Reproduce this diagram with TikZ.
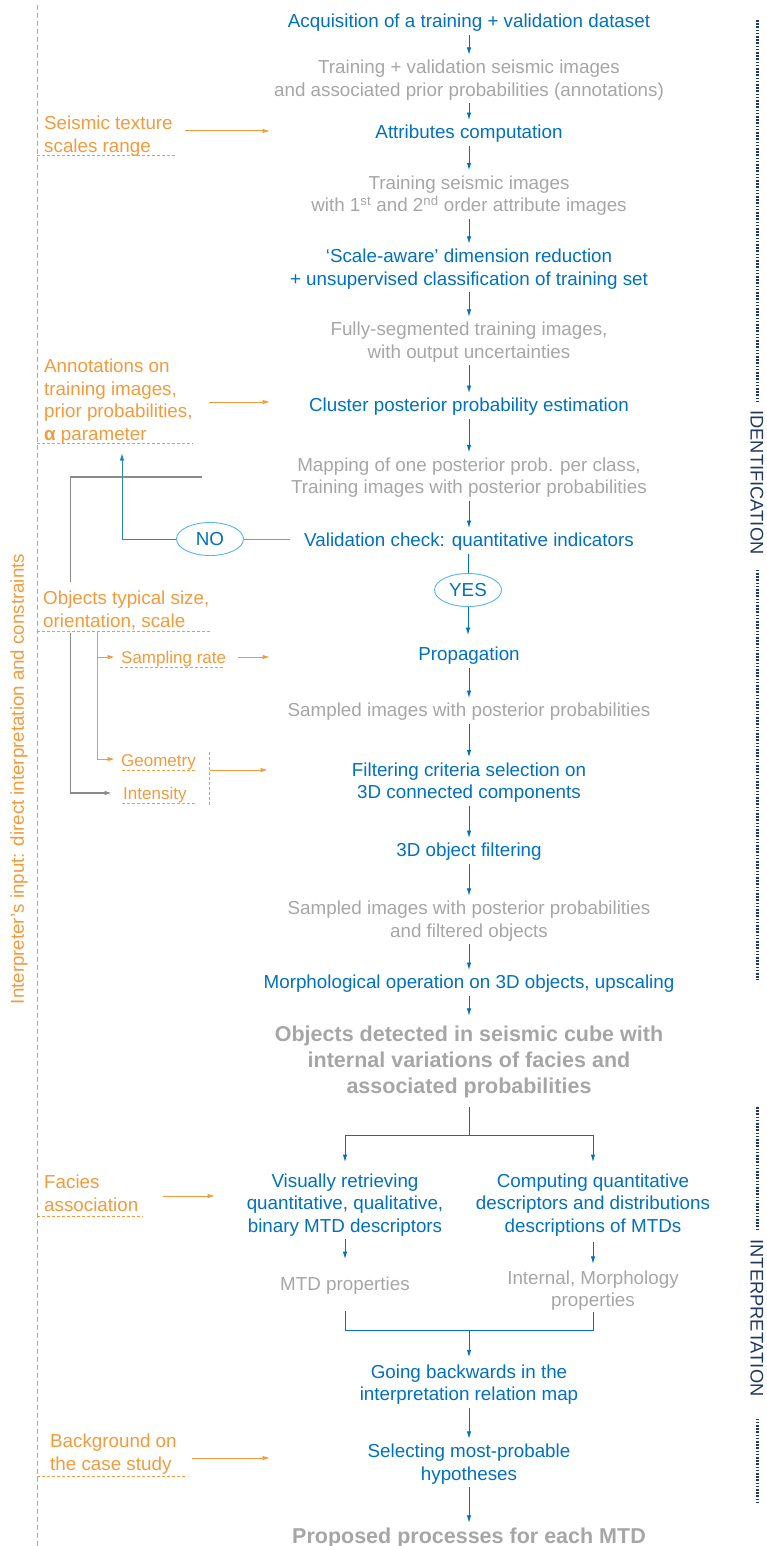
\documentclass[tikz,border=0pt]{standalone}
\usepackage{fontspec}
\setmainfont{Liberation Sans}
\usetikzlibrary{arrows.meta,shapes.geometric}
\definecolor{cblue}{HTML}{0070C0}
\definecolor{cgray}{HTML}{A6A6A6}
\definecolor{corange}{HTML}{F39A3C}
\definecolor{cnavy}{HTML}{203864}
\definecolor{clight}{HTML}{55B4F0}
\definecolor{cgline}{HTML}{8A8A8A}
\definecolor{cnoline}{HTML}{5AA7E0}
\begin{document}
\begin{tikzpicture}[x=1pt,y=-1pt,
  mf/.style={font=\fontsize{18.8}{22.5}\selectfont},
  bstep/.style={mf,text=cblue,align=center,inner sep=0pt,yshift=-3pt},
  gstep/.style={mf,text=cgray,align=center,inner sep=0pt,yshift=-3pt},
  bigstep/.style={font=\bfseries\fontsize{21.5}{26}\selectfont,text=cgray,align=center,inner sep=0pt,yshift=-3pt},
  olab/.style={mf,text=corange,align=left,anchor=west,inner sep=0pt,yshift=-2pt},
  osm/.style={font=\fontsize{17}{20}\selectfont,text=corange,anchor=west,inner sep=0pt,yshift=-2pt},
  tip/.style={-{Latex[length=7.5pt,width=4.5pt]}},
  arr/.style={draw=cblue,line width=0.9pt,tip,shorten <=3pt,shorten >=5pt},
  bline/.style={draw=cblue,line width=0.9pt},
  oarr/.style={draw=corange,line width=1pt,tip},
  gline/.style={draw=cgline,line width=1.2pt},
  udash/.style={draw=corange,line width=1.4pt,dash pattern=on 3pt off 2pt},
  vdash/.style={draw=corange,line width=1.4pt,dash pattern=on 5pt off 3pt},
  ndots/.style={draw=cnavy,line width=2.4pt,dash pattern=on 1.6pt off 1.6pt},
  oval/.style={ellipse,draw=clight,line width=0.9pt,minimum height=33pt,inner sep=0pt,mf,text=cblue},
  sidelab/.style={font=\fontsize{18.3}{20}\selectfont,text=cnavy,rotate=-90,inner sep=0pt}
]
\useasboundingbox (0,0) rectangle (766,1546);

% ---------- main column ----------
\node[bstep] (acq) at (469,20) {Acquisition of a training + validation dataset};
\node[gstep] (tv) at (469,77) {Training + validation seismic images\\and associated prior probabilities (annotations)};
\node[bstep] (attr) at (469,131) {Attributes computation};
\node[gstep] (tsi) at (469,192.5) {Training seismic images\\with 1\textsuperscript{st} and 2\textsuperscript{nd} order attribute images};
\node[bstep] (scl) at (469,266) {‘Scale-aware’ dimension reduction\\+ unsupervised classification of training set};
\node[gstep] (fully) at (469,339) {Fully-segmented training images,\\with output uncertainties};
\node[bstep] (clus) at (469,404) {Cluster posterior probability estimation};
\node[gstep] (map) at (469,474.5) {Mapping of one posterior prob. per class,\\Training images with posterior probabilities};
\node[bstep] (valid) at (469,539) {Validation check: quantitative indicators};
\node[oval,minimum width=67pt] (yes) at (468,590) {YES};
\node[oval,minimum width=67pt] (no) at (210,539) {NO};
\node[bstep] (prop) at (469,653) {Propagation};
\node[gstep] (samp1) at (469,709) {Sampled images with posterior probabilities};
\node[bstep] (filt) at (469,779.5) {Filtering criteria selection on\\3D connected components};
\node[bstep] (objf) at (469,849) {3D object filtering};
\node[gstep] (samp2) at (469,918) {Sampled images with posterior probabilities\\and filtered objects};
\node[bstep] (morph) at (469,981) {Morphological operation on 3D objects, upscaling};
\node[bigstep] (objs) at (469,1059) {Objects detected in seismic cube with\\internal variations of facies and\\associated probabilities};
\node[bstep] (vis) at (345,1202) {Visually retrieving\\quantitative, qualitative,\\binary MTD descriptors};
\node[bstep] (comp) at (593,1202) {Computing quantitative\\descriptors and distributions\\descriptions of MTDs};
\node[gstep] (mtd) at (345,1283) {MTD properties};
\node[gstep] (intern) at (593,1287.5) {Internal, Morphology\\properties};
\node[bstep] (going) at (469,1381.5) {Going backwards in the\\interpretation relation map};
\node[bstep] (sel) at (469,1461) {Selecting most-probable\\hypotheses};
\node[bigstep] (final) at (469,1535) {Proposed processes for each MTD};

% ---------- main arrows ----------
\draw[arr] (acq) -- (tv);
\draw[arr] (tv) -- (attr);
\draw[arr] (attr) -- (tsi);
\draw[arr] (tsi) -- (scl);
\draw[arr] (scl) -- (fully);
\draw[arr] (fully) -- (clus);
\draw[arr] (clus) -- (map);
\draw[arr] (map) -- (valid);
\draw[bline,shorten <=3pt] (valid.south -| yes) -- (yes.north);
\draw[arr,shorten <=0pt,shorten >=12pt] (yes.south) -- (yes.south |- prop.north);
\draw[arr] (prop) -- (samp1);
\draw[arr] (samp1) -- (filt);
\draw[arr] (filt) -- (objf);
\draw[arr] (objf) -- (samp2);
\draw[arr] (samp2) -- (morph);
\draw[arr,shorten >=10pt] (morph) -- (objs);

\coordinate (sp) at (469,1135);
\coordinate (spL) at (345,1135);
\coordinate (spR) at (593,1135);
\draw[bline,shorten <=9pt] (objs.south) -- (sp);
\draw[bline] (spL) -- (spR);
\draw[arr,shorten <=0pt,shorten >=11.5pt] (spL) -- (vis.north);
\draw[arr,shorten <=0pt,shorten >=11.5pt] (spR) -- (comp.north);
\draw[arr,shorten <=2.5pt,shorten >=18pt] (vis.south) -- (mtd.north);
\draw[arr,shorten <=5.5pt,shorten >=6.5pt] (comp.south) -- (intern.north);

\coordinate (jn) at (469,1330);
\coordinate (jnL) at (345,1330);
\coordinate (jnR) at (593,1330);
\draw[bline,shorten <=16.5pt,shorten >=1pt] (mtd.south) -- (jnL) -- (jnR) -- (intern.south);
\draw[arr,shorten <=0pt,shorten >=7pt] (jn) -- (going.north);
\draw[arr] (going) -- (sel);
\draw[arr] (sel) -- (final);

% ---------- NO loop ----------
\coordinate (nc) at (122,539);
\coordinate (nup) at (122,453);
\draw[draw=cnoline,line width=0.9pt,shorten <=14pt] (no.east -| valid.west) -- (no.east);
\draw[draw=cblue!85,line width=0.9pt,tip] (no.west) -- (nc) -- (nup);

% ---------- left side: interpreter inputs ----------
\draw[vdash] (37.5,5) -- (37.5,1546);
\node[font=\fontsize{18.7}{20}\selectfont,text=corange,rotate=90,inner sep=0pt] (interp) at (19,779) {Interpreter’s input: direct interpretation and constraints};

\node[olab] (seis) at (44,134) {Seismic texture\\scales range};
\node[olab] (ann) at (44,399.5) {Annotations on\\training images,\\prior probabilities,\\\textbf{α} parameter};
\node[olab] (objts) at (43,608.5) {Objects typical size,\\orientation, scale};
\node[osm] (sr) at (121,657) {Sampling rate};
\node[osm] (geo) at (121,760) {Geometry};
\node[osm] (inten) at (123,793) {Intensity};
\node[olab] (fac) at (44,1191.5) {Facies\\association};
\node[olab] (bg) at (50,1452) {Background on\\the case study};

% underlines
\draw[udash] (37,155.5) -- (175,155.5);
\draw[udash] (37,443.5) -- (193,443.5);
\draw[udash] (37,631.5) -- (211,631.5);
\draw[udash] (120,667.5) -- (225,667.5);
\draw[udash] (122,770.5) -- (196,770.5);
\draw[udash] (122,803.5) -- (196,803.5);
\draw[udash] (209.5,752) -- (209.5,805);
\draw[udash] (37,1216.5) -- (143,1216.5);
\draw[udash] (37,1476.5) -- (187,1476.5);

% orange input arrows
\coordinate (in1) at (270,131);
\coordinate (in2) at (270,402);
\coordinate (in3) at (270,657);
\coordinate (gbr) at (209.5,770);
\coordinate (in4) at (268,770);
\coordinate (in5) at (215,1196);
\coordinate (in6) at (270,1458);
\draw[oarr,shorten <=12.5pt] (seis.east |- in1) -- (in1);
\draw[oarr,shorten <=16pt] (ann.east |- in2) -- (in2);
\draw[oarr,shorten <=12pt] (sr.east |- in3) -- (in3);
\draw[oarr] (gbr) -- (in4);
\draw[oarr,shorten <=25pt] (fac.east |- in5) -- (in5);
\draw[oarr,shorten <=15.5pt] (bg.east |- in6) -- (in6);

% orange tree
\coordinate (o0) at (97.5,631);
\draw[oarr,shorten >=6pt] (o0) |- ([yshift=2pt]sr.west);
\draw[oarr,shorten >=6pt] (o0) |- ([yshift=3pt]geo.west);

% gray tree
\coordinate (g0) at (202,477);
\coordinate (g1) at (70.5,477);
\coordinate (g2) at (70.5,582);
\coordinate (g3) at (70.5,633);
\draw[gline] (g0) -- (g1) -- (g2);
\draw[gline,tip,shorten >=11pt] (g3) |- ([yshift=2pt]inten.west);

% ---------- right side: phases ----------
\node[sidelab] (idn) at (757,482.5) {IDENTIFICATION};
\node[sidelab] (itp) at (757,1318) {INTERPRETATION};
\coordinate (d1) at (757.5,20);
\coordinate (d2) at (757.5,980);
\coordinate (d3) at (757.5,1107);
\coordinate (d4) at (757.5,1503);
\draw[ndots,shorten >=8pt] (d1) -- (d1 |- idn.west);
\draw[ndots,shorten <=15pt] (d1 |- idn.east) -- (d2);
\draw[ndots,shorten >=10pt] (d3) -- (d3 |- itp.west);
\draw[ndots,shorten <=22pt] (d3 |- itp.east) -- (d4);
\end{tikzpicture}
\end{document}
